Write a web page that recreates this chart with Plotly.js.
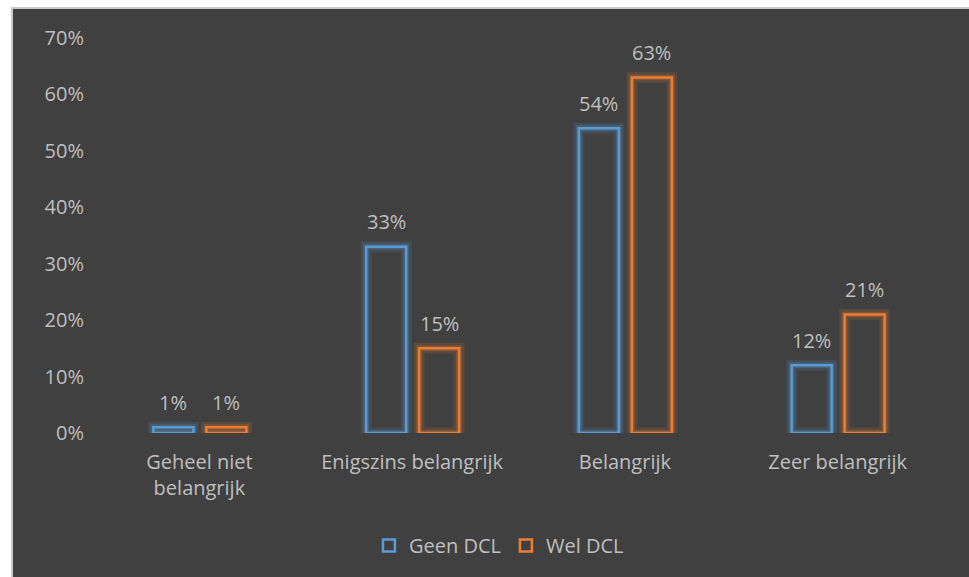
<!DOCTYPE html>
<html><head><meta charset="utf-8">
<script src="https://cdn.plot.ly/plotly-3.0.1.min.js"></script>
<style>
html,body{margin:0;padding:0;background:#fff;width:969px;height:577px;overflow:hidden;}
#wrap{position:absolute;left:11px;top:7px;width:958px;height:570px;border-left:2px solid #c9c9c9;border-top:2px solid #c9c9c9;background:#404040;}
#chart{width:956px;height:568px;}
</style></head>
<body><div id="wrap"><div id="chart"></div></div>
<script>
const categories = ["Geheel niet<br>belangrijk", "Enigszins belangrijk", "Belangrijk", "Zeer belangrijk"];
const geenDCL = [0.01, 0.33, 0.54, 0.12];
const welDCL = [0.01, 0.15, 0.63, 0.21];
const seriesNames = ["Geen DCL", "Wel DCL"];
const tickVals = [0, 0.1, 0.2, 0.3, 0.4, 0.5, 0.6, 0.7];
const tickText = ["0%", "10%", "20%", "30%", "40%", "50%", "60%", "70%"];

const blue = "#5b9bd5", orange = "#ed7d31";
const bw = 0.188;
const offs = [-0.216, 0.033];
const series = [geenDCL, welDCL];
const colors = [blue, orange];
const glow1 = ["rgba(91,155,213,0.14)", "rgba(237,125,49,0.14)"];
const glow2 = ["rgba(91,155,213,0.25)", "rgba(237,125,49,0.25)"];
const FONT = "Open Sans, sans-serif";
const traces = [];
for (let i = 0; i < 2; i++) {
  traces.push({type:"bar", x:categories, y:series[i], width:bw, offset:offs[i],
    marker:{color:"rgba(0,0,0,0)", line:{color:glow1[i], width:11}},
    showlegend:false, hoverinfo:"skip"});
  traces.push({type:"bar", x:categories, y:series[i], width:bw, offset:offs[i],
    marker:{color:"rgba(0,0,0,0)", line:{color:glow2[i], width:6}},
    showlegend:false, hoverinfo:"skip"});
}
for (let i = 0; i < 2; i++) {
  traces.push({type:"bar", name:seriesNames[i], x:categories, y:series[i], width:bw, offset:offs[i],
    marker:{color:"rgba(0,0,0,0)", line:{color:colors[i], width:2.5}}});
}
const annotations = [];
for (let i = 0; i < 2; i++) {
  series[i].forEach((v, k) => {
    annotations.push({x:k + offs[i] + bw/2, y:v, xref:"x", yref:"y", text:Math.round(v*100) + "%",
      showarrow:false, yanchor:"middle", yshift:25, font:{family:FONT, size:20, color:"#bfbfbf"}});
  });
}
const layout = {
  width:956, height:568,
  paper_bgcolor:"#404040", plot_bgcolor:"#404040",
  barmode:"overlay",
  margin:{l:80, r:25, t:29, b:142},
  font:{family:FONT, color:"#bfbfbf", size:20},
  xaxis:{showgrid:false, zeroline:false, showline:false, ticks:"", ticklabelstandoff:15, automargin:false,
    tickfont:{size:20, color:"#bfbfbf"}},
  yaxis:{range:[0,0.7], tickvals:tickVals, ticktext:tickText, showgrid:false, zeroline:false, automargin:false,
    showline:false, ticks:"", ticklabelstandoff:8, tickfont:{size:20, color:"#bfbfbf"}},
  legend:{orientation:"h", x:0.477, xanchor:"center", y:-0.285, yanchor:"middle",
    font:{size:20, color:"#bfbfbf"}, traceorder:"normal", itemwidth:30},
  annotations:annotations,
  showlegend:true
};
Plotly.newPlot("chart", traces, layout, {displayModeBar:false, staticPlot:true});
</script></body></html>
